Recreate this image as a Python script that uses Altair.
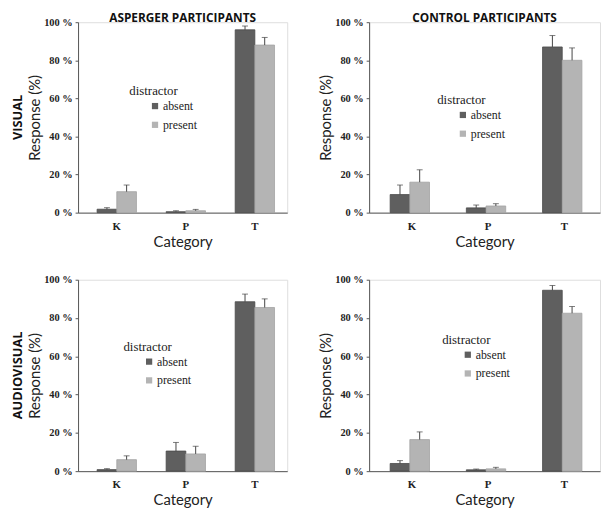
import altair as alt
import pandas as pd

categories = ["K", "P", "T"]
distractors = ["absent", "present"]

# Asperger participants, visual
asp_vis_absent = [1.8, 0.5, 96.0]
asp_vis_absent_err = [0.8, 0.5, 2.0]
asp_vis_present = [11.0, 1.0, 88.0]
asp_vis_present_err = [3.5, 0.7, 4.0]

# Control participants, visual
ctl_vis_absent = [9.5, 2.5, 87.0]
ctl_vis_absent_err = [5.0, 1.5, 6.0]
ctl_vis_present = [16.0, 3.5, 80.0]
ctl_vis_present_err = [6.5, 1.2, 6.5]

# Asperger participants, audiovisual
asp_av_absent = [0.8, 10.5, 88.5]
asp_av_absent_err = [0.5, 4.5, 4.0]
asp_av_present = [6.0, 9.0, 85.5]
asp_av_present_err = [2.0, 4.0, 4.5]

# Control participants, audiovisual
ctl_av_absent = [4.0, 0.7, 94.5]
ctl_av_absent_err = [1.5, 0.4, 2.5]
ctl_av_present = [16.5, 1.2, 82.5]
ctl_av_present_err = [4.0, 0.8, 3.5]

y_ticks = [0, 20, 40, 60, 80, 100]

SERIF = "Liberation Serif"
SANS = "Lato"
TITLE_SANS = "Open Sans"
DARK = "#5f5f5f"
LIGHT = "#b4b4b4"


def make_df(absent, absent_err, present, present_err):
    rows = []
    for i, c in enumerate(categories):
        rows.append(dict(category=c, distractor="absent", value=absent[i],
                         top=absent[i] + absent_err[i]))
        rows.append(dict(category=c, distractor="present", value=present[i],
                         top=present[i] + present_err[i]))
    return pd.DataFrame(rows)


def panel(df, width, height, legend_x, legend_y, title=None, row_label=None):
    base = alt.Chart(df)
    xenc = alt.X(
        "category:N", sort=categories,
        scale=alt.Scale(paddingInner=0.43, paddingOuter=0.23, align=0.6),
        axis=alt.Axis(title="Category", labelAngle=0, ticks=False,
                      labelFont=SERIF, labelFontWeight="bold", labelFontSize=11,
                      labelColor="#222", labelPadding=8,
                      titleFont=SANS, titleFontSize=15, titleFontWeight="normal",
                      titleColor="#222", titlePadding=3,
                      domainColor="#555"))
    xoff = alt.XOffset("distractor:N", sort=distractors)
    yscale = alt.Scale(domain=[0, 100], nice=False)
    yaxis = alt.Axis(values=y_ticks, labelExpr="datum.value + ' %'", grid=False,
                     labelOverlap=False, tickCount=6,
                     tickSize=3, tickColor="#555", domainColor="#555",
                     labelFont=SERIF, labelFontWeight="bold", labelFontSize=10.5,
                     labelColor="#222", labelPadding=3,
                     title="Response (%)", titleFont=SANS, titleFontSize=15,
                     titleFontWeight="normal", titleColor="#222", titlePadding=1)
    color = alt.Color(
        "distractor:N", sort=distractors,
        scale=alt.Scale(domain=distractors, range=[DARK, LIGHT]),
        legend=alt.Legend(title="distractor", orient="none",
                          legendX=legend_x, legendY=legend_y,
                          symbolType="square", symbolSize=40, symbolOffset=20,
                          symbolStrokeWidth=0,
                          labelFont=SERIF, labelFontSize=12, labelColor="#222",
                          labelOffset=2,
                          titleFont=SERIF, titleFontSize=13, titleFontWeight="normal",
                          titleColor="#222", titlePadding=2, rowPadding=7))
    stroke = alt.Stroke(
        "distractor:N", sort=distractors,
        scale=alt.Scale(domain=distractors, range=["#4a4a4a", "#a2a2a2"]),
        legend=None)
    bars = base.mark_bar(strokeWidth=0.8).encode(
        x=xenc, xOffset=xoff,
        y=alt.Y("value:Q", scale=yscale, axis=yaxis),
        color=color, stroke=stroke)
    rules = base.mark_rule(color="#444", strokeWidth=1).encode(
        x=xenc, xOffset=xoff,
        y=alt.Y("value:Q", scale=yscale, axis=yaxis), y2="top:Q")
    caps = base.mark_tick(color="#444", orient="horizontal", size=6,
                          thickness=1).encode(
        x=xenc, xOffset=xoff,
        y=alt.Y("top:Q", scale=yscale, axis=yaxis))
    layers = [bars, rules, caps]
    if row_label:
        lab = alt.Chart(pd.DataFrame({"t": [row_label]})).mark_text(
            angle=270, font=TITLE_SANS, fontWeight="bold", fontSize=13, color="#111"
        ).encode(x=alt.value(-61), y=alt.value(height / 2), text="t:N")
        layers.append(lab)
    props = dict(width=width, height=height)
    if title:
        props["title"] = alt.TitleParams(title, font=TITLE_SANS, fontSize=12,
                                         fontWeight="bold", color="#111",
                                         anchor="middle", frame="group", offset=-8)
    return alt.layer(*layers).properties(**props)


p1 = panel(make_df(asp_vis_absent, asp_vis_absent_err, asp_vis_present, asp_vis_present_err),
           212, 193, 52, 64, title="ASPERGER PARTICIPANTS", row_label="VISUAL")
p2 = panel(make_df(ctl_vis_absent, ctl_vis_absent_err, ctl_vis_present, ctl_vis_present_err),
           234, 193, 69, 73, title="CONTROL PARTICIPANTS")
p3 = panel(make_df(asp_av_absent, asp_av_absent_err, asp_av_present, asp_av_present_err),
           212, 194, 46, 62, row_label="AUDIOVISUAL")
p4 = panel(make_df(ctl_av_absent, ctl_av_absent_err, ctl_av_present, ctl_av_present_err),
           234, 194, 74, 55)

chart = alt.concat(p1, p2, p3, p4, columns=2, spacing={"row": 24, "column": 30}).resolve_legend(
    color="independent"
).properties(
    padding={"left": 3, "top": 0, "right": 0, "bottom": 0}
).configure_view(stroke=None).configure(background="white")

chart.save("out.html", embed_options={"renderer": "svg", "actions": False})
